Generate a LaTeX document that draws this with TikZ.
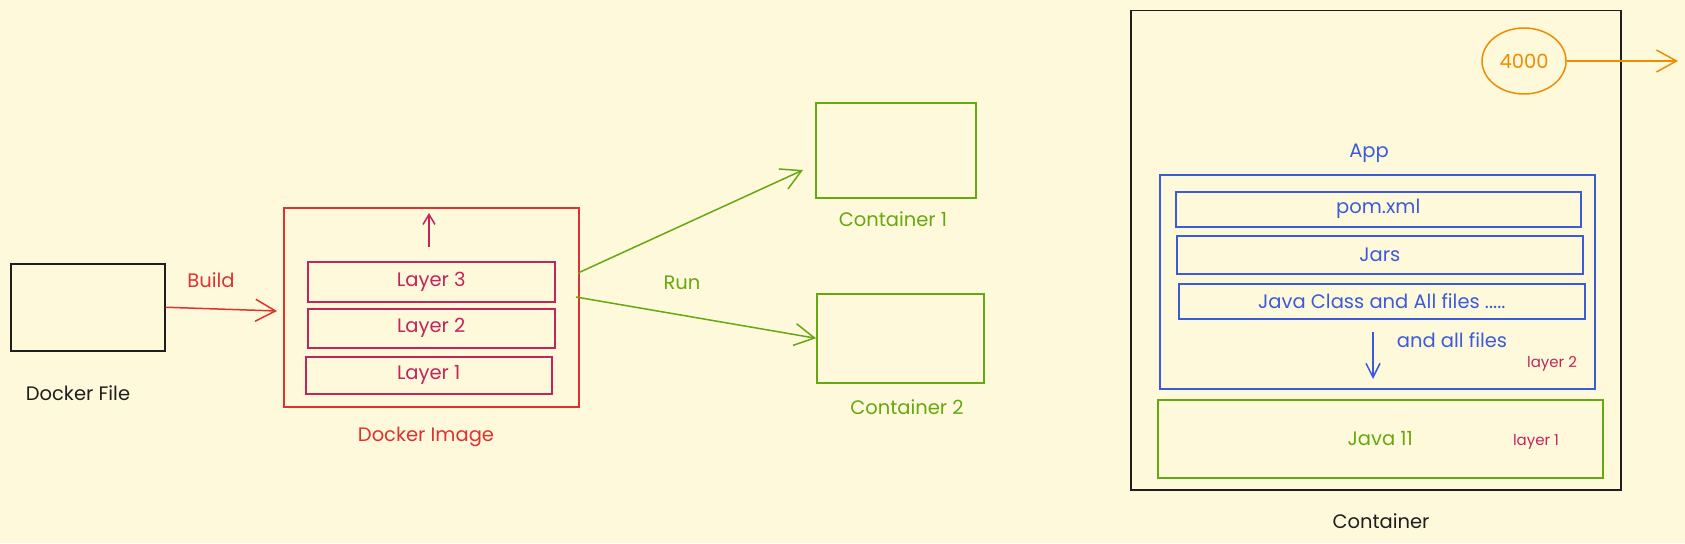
\documentclass[tikz,border=0pt]{standalone}
\usepackage{fontspec}
\setmainfont{Poppins}
\usetikzlibrary{arrows.meta,shapes.geometric}
\definecolor{bg}{HTML}{FFF9DB}
\definecolor{ink}{HTML}{1E1E1E}
\definecolor{cred}{HTML}{E03131}
\definecolor{cmag}{HTML}{C2255C}
\definecolor{cgreen}{HTML}{66A80F}
\definecolor{cblue}{HTML}{3B5BDB}
\definecolor{corange}{HTML}{F08C00}
\begin{document}
\begin{tikzpicture}[x=1pt,y=-1pt,line width=1.5pt,
  box/.style={draw,rectangle,anchor=north west,inner sep=0pt},
  lbl/.style={font=\fontsize{19.5}{23}\selectfont,inner sep=0pt},
  small/.style={font=\fontsize{15}{18}\selectfont,inner sep=0pt},
  arr/.style={-{Straight Barb[length=20pt,width=22pt]}}]
\fill[bg] (0,0) rectangle (1685,543);
\useasboundingbox (0,0) rectangle (1685,543);

% Docker file
\node[box,ink,minimum width=154pt,minimum height=87pt] (df) at (10,263) {};
\node[lbl,ink] (dflbl) at (78,393) {Docker File};
\node[lbl,cred] (buildlbl) at (211,280) {Build};

% Docker image
\node[box,cred,minimum width=295pt,minimum height=199pt] (img) at (283,207) {};
\node[box,cmag,lbl,minimum width=247pt,minimum height=40pt] (l3) at (307,261) {Layer 3};
\node[box,cmag,lbl,minimum width=247pt,minimum height=39pt] (l2) at (307,308) {Layer 2};
\node[box,cmag,lbl,minimum width=246pt,minimum height=37pt] (l1) at (305,356) {Layer 1};
\coordinate (upa) at (429,247);
\coordinate (upb) at (429,213);
\draw[cmag,-{Straight Barb[length=10pt,width=12pt]}] (upa) -- (upb);
\node[lbl,cred] (imglbl) at (426,437) {Docker Image};

\coordinate (bend) at (277,311);
\draw[cred,arr] (df.east) -- (bend);

% Containers
\node[box,cgreen,minimum width=160pt,minimum height=95pt] (c1) at (815,102) {};
\node[lbl,cgreen] (c1lbl) at (893,219) {Container 1};
\node[box,cgreen,minimum width=167pt,minimum height=89pt] (c2) at (816,293) {};
\node[lbl,cgreen] (c2lbl) at (907,407) {Container 2};
\node[lbl,cgreen] (runlbl) at (682,283) {Run};
\coordinate (r1s) at (578,273);
\coordinate (r1e) at (803,170);
\coordinate (r2s) at (576,297);
\draw[cgreen,arr] (r1s) -- (r1e);
\draw[cgreen,arr] (r2s) -- (c2.west);

% Big container
\node[box,ink,minimum width=490pt,minimum height=479pt] (cont) at (1130,10) {};
\node[lbl,ink] (contlbl) at (1381,521) {Container};
\node[draw,corange,ellipse,minimum width=84pt,minimum height=66pt,inner sep=0pt,lbl] (port) at (1524,61) {4000};
\coordinate (portend) at (1678,61);
\draw[corange,arr] (port.east) -- (portend);

\node[lbl,cblue] (applbl) at (1369,153) {App};
\node[box,cblue,minimum width=435pt,minimum height=214pt] (app) at (1159,174) {};
\node[box,cblue,lbl,minimum width=405pt,minimum height=35pt] (pom) at (1175,191) {pom.xml};
\node[box,cblue,lbl,minimum width=406pt,minimum height=38pt] (jars) at (1176,235) {Jars};
\node[box,cblue,lbl,minimum width=406pt,minimum height=35pt] (jc) at (1178,283) {Java Class and All files .....};
\coordinate (da1) at (1373,332);
\coordinate (da2) at (1373,379);
\draw[cblue,-{Straight Barb[length=14pt,width=14pt]}] (da1) -- (da2);
\node[lbl,cblue] (allfiles) at (1452,340) {and all files};
\node[small,cmag] (lay2) at (1552,364) {layer 2};

\node[box,cgreen,lbl,minimum width=445pt,minimum height=78pt] (java) at (1157,399) {Java 11};
\node[small,cmag] (lay1) at (1536,442) {layer 1};
\end{tikzpicture}
\end{document}
